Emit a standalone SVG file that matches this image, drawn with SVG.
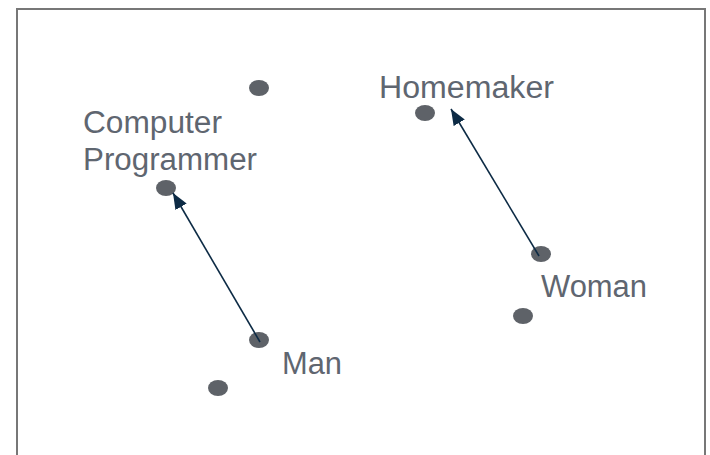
<svg xmlns="http://www.w3.org/2000/svg" width="710" height="455" viewBox="0 0 710 455">
<style>
.dot{fill:#5e6268}
.lbl{font-family:"Liberation Sans",Arial,sans-serif;font-size:31px;fill:#5f6670}
.arr{stroke:#0d2b45;stroke-width:1.6;fill:none}
</style>
<defs>
<marker id="ah2" viewBox="0 0 16 13" refX="16" refY="6.5" markerWidth="16" markerHeight="13" markerUnits="userSpaceOnUse" orient="auto">
<path d="M0,0 L16,6.5 L0,13 z" fill="#0d2b45"/>
</marker>
</defs>
<rect x="17" y="9" width="688" height="470" fill="#fff" stroke="#777" stroke-width="2"/>
<g id="p1"><ellipse class="dot" cx="259" cy="88" rx="10" ry="8"/></g>
<g id="homemaker"><ellipse class="dot" cx="425" cy="113" rx="10" ry="8"/><text class="lbl" x="379" y="98" textLength="175" lengthAdjust="spacingAndGlyphs">Homemaker</text></g>
<g id="programmer"><ellipse class="dot" cx="166" cy="188" rx="10" ry="8"/><text class="lbl" x="83" y="133" textLength="139" lengthAdjust="spacingAndGlyphs">Computer</text><text class="lbl" x="83" y="170" textLength="174" lengthAdjust="spacingAndGlyphs">Programmer</text></g>
<g id="woman"><ellipse class="dot" cx="541" cy="254" rx="10" ry="8"/><text class="lbl" x="541" y="297" textLength="106" lengthAdjust="spacingAndGlyphs">Woman</text></g>
<g id="p2"><ellipse class="dot" cx="523" cy="316" rx="10" ry="8"/></g>
<g id="man"><ellipse class="dot" cx="259" cy="340" rx="10" ry="8"/><text class="lbl" x="282" y="374" textLength="60" lengthAdjust="spacingAndGlyphs">Man</text></g>
<g id="p3"><ellipse class="dot" cx="218" cy="388" rx="10" ry="8"/></g>
<g id="connectors">
<line class="arr" x1="260" y1="342" x2="173" y2="193" marker-end="url(#ah2)"/>
<line class="arr" x1="539" y1="256" x2="451" y2="109" marker-end="url(#ah2)"/>
</g>
</svg>
